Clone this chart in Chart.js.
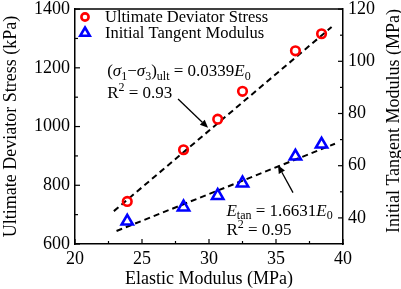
<!DOCTYPE html>
<html><head><meta charset="utf-8">
<script src="https://cdn.jsdelivr.net/npm/chart.js@4/dist/chart.umd.min.js"></script>
<style>html,body{margin:0;padding:0;background:#fff}#wrap{width:401px;height:289px}</style>
</head><body><div id="wrap"><canvas id="c" width="401" height="289"></canvas></div>
<script>
// ---- data ----
const elasticModulus = [23.9, 28.1, 30.65, 32.5, 36.45, 38.4];
const ultimateDeviatorStress = [745, 921, 1025, 1120, 1258, 1316];
const initialTangentModulus = [38.7, 44.1, 48.5, 53.3, 63.6, 68.2];
const stressFitX = [22.9, 39.15];
const stressFitY = [712, 1339];
const modulusFitX = [23.1, 39.4];
const modulusFitY = [35.0, 68.4];
const xTicks = [20, 25, 30, 35, 40];
const xMinorTicks = [22.5, 27.5, 32.5, 37.5];
const leftTicks = [600, 800, 1000, 1200, 1400];
const leftMinorTicks = [700, 900, 1100, 1300];
const rightTicks = [40, 60, 80, 100, 120];
const rightMinorTicks = [50, 70, 90, 110];
const seriesNames = ['Ultimate Deviator Stress', 'Initial Tangent Modulus'];

const FONT = "'Liberation Serif', 'Times New Roman', serif";
const TICK = 18, TITLE = 18, NOTE = 17, LEG = 16.5;

const pts = (xs, ys) => xs.map((x, i) => ({x, y: ys[i]}));
function setTicks(list) { return function(scale) { scale.ticks = list.map(v => ({value: v})); }; }
function fixBox(dim, size, padTop, padBottom) {
  return function(s) {
    s[dim] = size;
    s.paddingTop = padTop; s.paddingBottom = padBottom; s.paddingLeft = 0; s.paddingRight = 0;
  };
}

function drawRich(ctx, runs, x, y, size) {
  let cx = x;
  for (const [t, it, sh] of runs) {
    const s = sh ? Math.round(size * 0.68) : size;
    ctx.font = (it ? 'italic ' : '') + s + 'px ' + FONT;
    let dy = 0;
    if (sh === 'sub') dy = size * 0.3;
    if (sh === 'sup') dy = -size * 0.35;
    ctx.fillText(t, cx, y + dy);
    cx += ctx.measureText(t).width;
  }
}

function arrow(ctx, x1, y1, x2, y2) {
  const a = Math.atan2(y2 - y1, x2 - x1), L = 8, W = 3.5;
  ctx.beginPath(); ctx.moveTo(x1, y1);
  ctx.lineTo(x2 - L * Math.cos(a), y2 - L * Math.sin(a)); ctx.stroke();
  ctx.beginPath();
  ctx.moveTo(x2, y2);
  ctx.lineTo(x2 - L * Math.cos(a) + W * Math.sin(a), y2 - L * Math.sin(a) - W * Math.cos(a));
  ctx.lineTo(x2 - L * Math.cos(a) - W * Math.sin(a), y2 - L * Math.sin(a) + W * Math.cos(a));
  ctx.closePath(); ctx.fill();
}

const decor = {
  id: 'decor',
  afterDraw(chart) {
    const {ctx, chartArea: a, scales} = chart;
    const sx = scales.x, sy = scales.y, sy2 = scales.y2;
    ctx.save();
    ctx.strokeStyle = '#000'; ctx.fillStyle = '#000'; ctx.lineWidth = 1.5;
    ctx.beginPath(); ctx.moveTo(a.left, a.top); ctx.lineTo(a.right, a.top); ctx.stroke();
    ctx.lineWidth = 1.2;
    const tk = (list, len, fn) => list.forEach(v => { ctx.beginPath(); fn(v, len); ctx.stroke(); });
    tk(xTicks, 5, (v, l) => { const p = sx.getPixelForValue(v); ctx.moveTo(p, a.bottom); ctx.lineTo(p, a.bottom - l); });
    tk(xMinorTicks, 3, (v, l) => { const p = sx.getPixelForValue(v); ctx.moveTo(p, a.bottom); ctx.lineTo(p, a.bottom - l); });
    tk(leftTicks, 5, (v, l) => { const p = sy.getPixelForValue(v); ctx.moveTo(a.left, p); ctx.lineTo(a.left + l, p); });
    tk(leftMinorTicks, 3, (v, l) => { const p = sy.getPixelForValue(v); ctx.moveTo(a.left, p); ctx.lineTo(a.left + l, p); });
    tk(rightTicks, 5, (v, l) => { const p = sy2.getPixelForValue(v); ctx.moveTo(a.right, p); ctx.lineTo(a.right - l, p); });
    tk(rightMinorTicks, 3, (v, l) => { const p = sy2.getPixelForValue(v); ctx.moveTo(a.right, p); ctx.lineTo(a.right - l, p); });

    // legend
    const ds = chart.data.datasets;
    ctx.textBaseline = 'middle'; ctx.textAlign = 'left';
    [[17, 0, 3.6], [33, 1, 5.5]].forEach(([y, i, r]) => {
      ctx.save();
      ctx.strokeStyle = ds[i].borderColor; ctx.fillStyle = 'rgba(0,0,0,0)'; ctx.lineWidth = 2.6;
      Chart.helpers.drawPoint(ctx, {pointStyle: ds[i].pointStyle, radius: r, borderWidth: 2.6}, a.left + 10, y);
      ctx.restore();
      ctx.font = LEG + 'px ' + FONT; ctx.fillStyle = '#000';
      ctx.fillText(seriesNames[i], a.left + 30, y + 0.5);
    });

    // annotations
    drawRich(ctx, [['(', 0, null], ['σ', 1, null], ['1', 0, 'sub'], ['−', 0, null], ['σ', 1, null], ['3', 0, 'sub'], [')', 0, null], ['ult', 0, 'sub'], [' = 0.0339', 0, null], ['E', 1, null], ['0', 0, 'sub']],
      sx.getPixelForValue(22.4), sy.getPixelForValue(1188), NOTE);
    drawRich(ctx, [['R', 0, null], ['2', 0, 'sup'], [' = 0.93', 0, null]],
      sx.getPixelForValue(22.4), sy.getPixelForValue(1111), NOTE);
    drawRich(ctx, [['E', 1, null], ['tan', 0, 'sub'], [' = 1.6631', 0, null], ['E', 1, null], ['0', 0, 'sub']],
      sx.getPixelForValue(31.3), sy2.getPixelForValue(42.6), NOTE);
    drawRich(ctx, [['R', 0, null], ['2', 0, 'sup'], [' = 0.95', 0, null]],
      sx.getPixelForValue(31.3), sy2.getPixelForValue(35.0), NOTE);
    ctx.lineWidth = 1.3;
    arrow(ctx, sx.getPixelForValue(27.69), sy.getPixelForValue(1094), sx.getPixelForValue(29.93), sy.getPixelForValue(996));
    arrow(ctx, sx.getPixelForValue(36.27), sy2.getPixelForValue(49.7), sx.getPixelForValue(35.15), sy2.getPixelForValue(60.2));

    // right axis title (reads bottom-to-top)
    ctx.save();
    ctx.font = TITLE + 'px ' + FONT; ctx.textAlign = 'center'; ctx.textBaseline = 'middle';
    ctx.translate(394, 121);
    ctx.rotate(-Math.PI / 2);
    ctx.fillText('Initial Tangent Modulus (MPa)', 0, 0);
    ctx.restore();
    ctx.restore();
  }
};

const tickFont = {family: FONT, size: TICK, lineHeight: 1.2};
const titleFont = {family: FONT, size: TITLE, lineHeight: 1.2};
const plain = v => String(v);

new Chart(document.getElementById('c'), {
  type: 'scatter',
  data: {
    datasets: [
      {label: seriesNames[0], data: pts(elasticModulus, ultimateDeviatorStress), yAxisID: 'y',
       pointStyle: 'circle', pointRadius: 4.3, pointBorderWidth: 2.6, borderColor: '#ff0000', backgroundColor: 'rgba(0,0,0,0)', order: 1},
      {label: seriesNames[1], data: pts(elasticModulus, initialTangentModulus), yAxisID: 'y2',
       pointStyle: 'triangle', pointRadius: 6.5, pointBorderWidth: 2.6, borderColor: '#0000ff', backgroundColor: 'rgba(0,0,0,0)', order: 1},
      {label: 'fit1', type: 'line', data: pts(stressFitX, stressFitY), yAxisID: 'y', showLine: true, pointRadius: 0,
       borderColor: '#000', borderWidth: 2, borderDash: [6, 4], fill: false, order: 2},
      {label: 'fit2', type: 'line', data: pts(modulusFitX, modulusFitY), yAxisID: 'y2', showLine: true, pointRadius: 0,
       borderColor: '#000', borderWidth: 2, borderDash: [6, 4], fill: false, order: 2}
    ]
  },
  options: {
    responsive: false, animation: false, devicePixelRatio: 1,
    layout: {padding: 0},
    plugins: {tooltip: {enabled: false}, legend: {display: false}},
    scales: {
      x: {
        type: 'linear', min: 20, max: 40, afterBuildTicks: setTicks(xTicks),
        afterFit: fixBox('height', 45, 0, 0),
        grid: {display: false, drawTicks: false}, border: {display: true, color: '#000', width: 1.5},
        ticks: {font: tickFont, color: '#000', padding: 4, maxRotation: 0, callback: plain},
        title: {display: true, text: 'Elastic Modulus (MPa)', font: titleFont, color: '#000', padding: {top: 0, bottom: -1}}
      },
      y: {
        position: 'left', min: 600, max: 1400, afterBuildTicks: setTicks(leftTicks),
        afterFit: fixBox('width', 75, 7, 0),
        grid: {display: false, drawTicks: false}, border: {display: true, color: '#000', width: 1.5},
        ticks: {font: tickFont, color: '#000', padding: 5, callback: plain},
        title: {display: true, text: 'Ultimate Deviator Stress (kPa)', font: titleFont, color: '#000', padding: {top: 0, bottom: 0}}
      },
      y2: {
        position: 'right', min: 30, max: 120, afterBuildTicks: setTicks(rightTicks),
        afterFit: fixBox('width', 58, 7, 0),
        grid: {display: false, drawTicks: false}, border: {display: true, color: '#000', width: 1.5},
        ticks: {font: tickFont, color: '#000', padding: 5, callback: plain}
      }
    }
  },
  plugins: [decor]
});
</script></body></html>
